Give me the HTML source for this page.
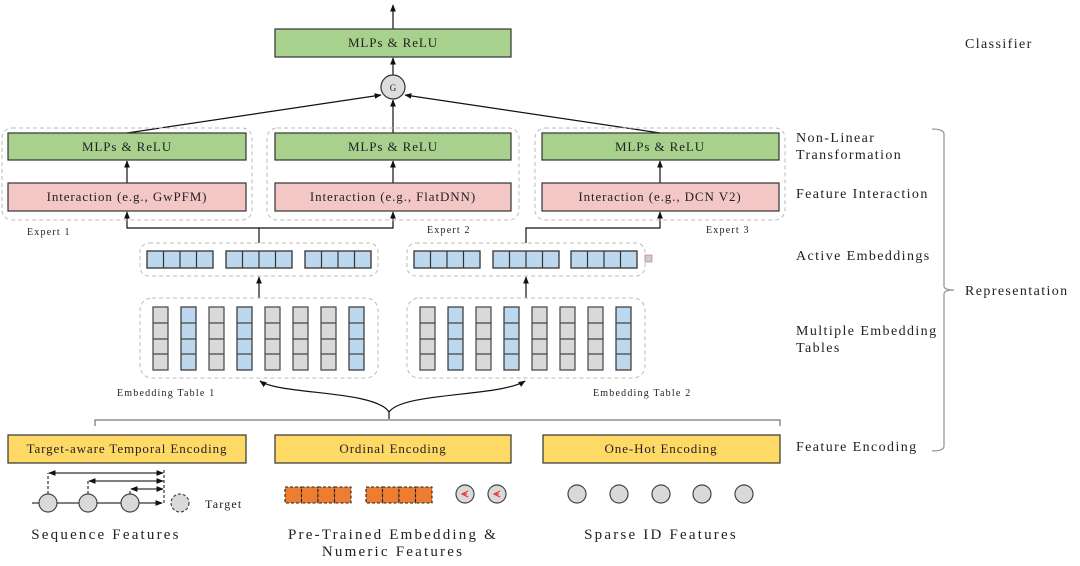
<!DOCTYPE html>
<html><head><meta charset="utf-8"><style>
html,body{margin:0;padding:0;background:#fff;}
svg{display:block;}
text{font-family:"Liberation Serif",serif;fill:#222;}
</style></head><body>
<svg width="1080" height="566" viewBox="0 0 1080 566" xmlns="http://www.w3.org/2000/svg">
<defs>
<marker id="a" viewBox="0 0 10 10" refX="9" refY="5" markerWidth="6" markerHeight="6" orient="auto-start-reverse"><path d="M0,1 L10,5 L0,9 z" fill="#111"/></marker>
</defs>
<g stroke="#111" stroke-width="1.2" fill="none">
<line x1="393" y1="29" x2="393" y2="5" marker-end="url(#a)"/>
<line x1="393" y1="75" x2="393" y2="58" marker-end="url(#a)"/>
<line x1="127" y1="133" x2="381" y2="95" marker-end="url(#a)"/>
<line x1="393" y1="133" x2="393" y2="100" marker-end="url(#a)"/>
<line x1="660" y1="133" x2="405" y2="95" marker-end="url(#a)"/>
<line x1="127" y1="183" x2="127" y2="161" marker-end="url(#a)"/>
<line x1="393" y1="183" x2="393" y2="161" marker-end="url(#a)"/>
<line x1="660" y1="183" x2="660" y2="161" marker-end="url(#a)"/>
<polyline points="259,243 259,228 127,228 127,212" marker-end="url(#a)"/>
<polyline points="259,228 393,228 393,212" marker-end="url(#a)"/>
<polyline points="526,243 526,228 660,228 660,212" marker-end="url(#a)"/>
<line x1="259" y1="298" x2="259" y2="277" marker-end="url(#a)"/>
<line x1="526" y1="298" x2="526" y2="277" marker-end="url(#a)"/>
<path d="M389,419 L389,412 C375,390 280,395 260,381" marker-end="url(#a)"/>
<path d="M389,412 C403,392 500,397 525,381" marker-end="url(#a)"/>
</g>
<polyline points="95,426 95,420 780,420 780,426" fill="none" stroke="#555" stroke-width="1"/>
<path d="M932,129 Q944,129 944,134 L944,286 Q944,290 954,290 Q944,290 944,294 L944,446 Q944,451 932,451" fill="none" stroke="#999" stroke-width="1.3"/>
<g fill="none" stroke="#bbb" stroke-dasharray="4,3" stroke-width="1">
<rect x="2" y="128" width="250" height="92" rx="10"/>
<rect x="267" y="128" width="252" height="92" rx="10"/>
<rect x="535" y="128" width="250" height="92" rx="10"/>
<rect x="140" y="243" width="238" height="33" rx="9"/>
<rect x="407" y="243" width="238" height="33" rx="9"/>
<rect x="140" y="298" width="238" height="80" rx="12"/>
<rect x="407" y="298" width="238" height="80" rx="12"/>
</g>
<g stroke="#333" stroke-width="1.2">
<rect x="275" y="29" width="236" height="28" fill="#a9d18e"/>
<rect x="8" y="133" width="238" height="27" fill="#a9d18e"/>
<rect x="275" y="133" width="236" height="27" fill="#a9d18e"/>
<rect x="542" y="133" width="237" height="27" fill="#a9d18e"/>
<rect x="8" y="183" width="238" height="28" fill="#f4c7c7"/>
<rect x="275" y="183" width="236" height="28" fill="#f4c7c7"/>
<rect x="542" y="183" width="237" height="28" fill="#f4c7c7"/>
<rect x="8" y="435" width="238" height="28" fill="#ffd966"/>
<rect x="275" y="435" width="236" height="28" fill="#ffd966"/>
<rect x="543" y="435" width="237" height="28" fill="#ffd966"/>
<circle cx="393" cy="87" r="12" fill="#ddd"/>
</g>
<text x="393" y="91" font-size="9" text-anchor="middle">G</text>
<g font-size="13" text-anchor="middle" letter-spacing="0.9">
<text x="393" y="47">MLPs &amp; ReLU</text>
<text x="127" y="151">MLPs &amp; ReLU</text>
<text x="393" y="151">MLPs &amp; ReLU</text>
<text x="660" y="151">MLPs &amp; ReLU</text>
<text x="127" y="201">Interaction (e.g., GwPFM)</text>
<text x="393" y="201">Interaction (e.g., FlatDNN)</text>
<text x="660" y="201">Interaction (e.g., DCN V2)</text>
<text x="127" y="453">Target-aware Temporal Encoding</text>
<text x="393" y="453">Ordinal Encoding</text>
<text x="661" y="453">One-Hot Encoding</text>
</g>
<g font-size="10" letter-spacing="1.2">
<text x="27" y="235">Expert 1</text>
<text x="427" y="233">Expert 2</text>
<text x="706" y="233">Expert 3</text>
<text x="117" y="396">Embedding Table 1</text>
<text x="593" y="396">Embedding Table 2</text>
</g>
<g font-size="14" letter-spacing="1.4">
<text x="965" y="48">Classifier</text>
<text x="796" y="142">Non-Linear</text>
<text x="796" y="159">Transformation</text>
<text x="796" y="198">Feature Interaction</text>
<text x="796" y="260">Active Embeddings</text>
<text x="965" y="295">Representation</text>
<text x="796" y="335">Multiple Embedding</text>
<text x="796" y="352">Tables</text>
<text x="796" y="451">Feature Encoding</text>
</g>
<g font-size="15" text-anchor="middle" letter-spacing="2.2">
<text x="106" y="539">Sequence Features</text>
<text x="393" y="539">Pre-Trained Embedding &amp;</text>
<text x="393" y="556">Numeric Features</text>
<text x="661" y="539">Sparse ID Features</text>
</g>
<text x="205" y="508" font-size="12" letter-spacing="1.2">Target</text>
<g stroke="#333" stroke-width="1.3" fill="#bdd7ee">
<rect x="147" y="251" width="66" height="17"/><rect x="226" y="251" width="66" height="17"/><rect x="305" y="251" width="66" height="17"/>
<rect x="414" y="251" width="66" height="17"/><rect x="493" y="251" width="66" height="17"/><rect x="571" y="251" width="66" height="17"/>
</g>
<g stroke="#333" stroke-width="1.2">
<path d="M163.5,251v17M180,251v17M196.5,251v17M242.5,251v17M259,251v17M275.5,251v17M321.5,251v17M338,251v17M354.5,251v17M430.5,251v17M447,251v17M463.5,251v17M509.5,251v17M526,251v17M542.5,251v17M587.5,251v17M604,251v17M620.5,251v17"/>
</g>
<rect x="645" y="255" width="7" height="7" fill="#ccc" stroke="#c66" stroke-width="0.6"/>
<g stroke="#444" stroke-width="1.2">
<g fill="#d9d9d9">
<rect x="153" y="307" width="15" height="63"/><rect x="209" y="307" width="15" height="63"/><rect x="265" y="307" width="15" height="63"/><rect x="293" y="307" width="15" height="63"/><rect x="321" y="307" width="15" height="63"/>
<rect x="420" y="307" width="15" height="63"/><rect x="476" y="307" width="15" height="63"/><rect x="532" y="307" width="15" height="63"/><rect x="560" y="307" width="15" height="63"/><rect x="588" y="307" width="15" height="63"/>
</g>
<g fill="#bdd7ee" stroke="#333">
<rect x="181" y="307" width="15" height="63"/><rect x="237" y="307" width="15" height="63"/><rect x="349" y="307" width="15" height="63"/>
<rect x="448" y="307" width="15" height="63"/><rect x="504" y="307" width="15" height="63"/><rect x="616" y="307" width="15" height="63"/>
</g>
<path d="M153,323h211M153,339h211M153,354h211M420,323h211M420,339h211M420,354h211" stroke="#444" stroke-dasharray="15,13"/>
</g>
<g stroke="#333" stroke-width="1.2" fill="none">
<line x1="32" y1="503" x2="162" y2="503" marker-end="url(#a)"/>
<g stroke-dasharray="3,2"><line x1="48" y1="494" x2="48" y2="473"/><line x1="88" y1="494" x2="88" y2="481"/><line x1="130" y1="494" x2="130" y2="489"/><line x1="164" y1="470" x2="164" y2="505"/></g>
<line x1="49" y1="473" x2="163" y2="473" marker-start="url(#a)" marker-end="url(#a)"/>
<line x1="89" y1="481" x2="163" y2="481" marker-start="url(#a)" marker-end="url(#a)"/>
<line x1="131" y1="489" x2="163" y2="489" marker-start="url(#a)" marker-end="url(#a)"/>
</g>
<g stroke="#444" stroke-width="1.2" fill="#d9d9d9">
<circle cx="48" cy="503" r="9"/><circle cx="88" cy="503" r="9"/><circle cx="130" cy="503" r="9"/>
<circle cx="180" cy="503" r="9" stroke-dasharray="3,2"/>
<circle cx="465" cy="494" r="9"/><circle cx="497" cy="494" r="9"/>
<circle cx="577" cy="494" r="9"/><circle cx="619" cy="494" r="9"/><circle cx="661" cy="494" r="9"/><circle cx="702" cy="494" r="9"/><circle cx="744" cy="494" r="9"/>
</g>
<g stroke="#e33" stroke-width="1.2" fill="none"><path d="M468,491 L462,494 L468,497 M462,494 h5"/><path d="M500,491 L494,494 L500,497 M494,494 h5"/></g>
<g stroke="#222" stroke-width="1.1" stroke-dasharray="3,2" fill="#ed7d31">
<rect x="285" y="487" width="16.5" height="16"/><rect x="301.5" y="487" width="16.5" height="16"/><rect x="318" y="487" width="16.5" height="16"/><rect x="334.5" y="487" width="16.5" height="16"/>
<rect x="366" y="487" width="16.5" height="16"/><rect x="382.5" y="487" width="16.5" height="16"/><rect x="399" y="487" width="16.5" height="16"/><rect x="415.5" y="487" width="16.5" height="16"/>
</g>
</svg>
</body></html>
